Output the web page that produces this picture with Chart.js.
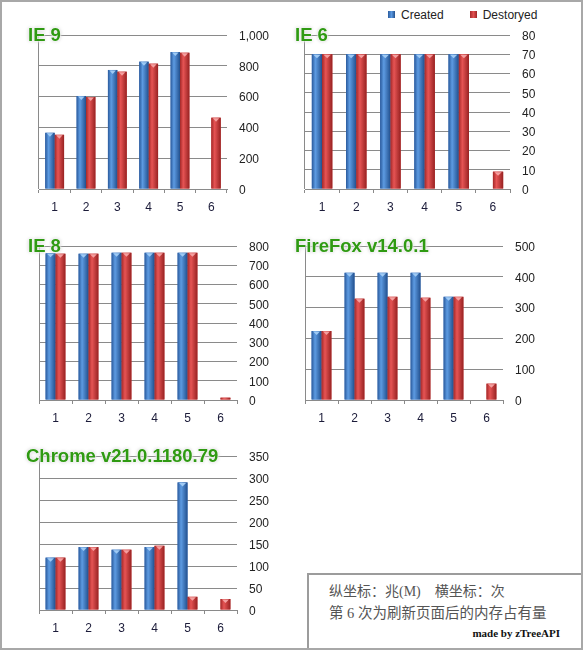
<!DOCTYPE html>
<html>
<head>
<meta charset="utf-8">
<script src="https://cdn.jsdelivr.net/npm/chart.js@4.4.1/dist/chart.umd.min.js"></script>
<style>
body { margin: 0; background: #fff; }
#page { position: relative; width: 583px; height: 650px; overflow: hidden; font-family: "Liberation Sans", Arial, sans-serif; }
#frame { position: absolute; left: 0; top: 0; width: 583px; height: 650px; border: 2px solid #a8a8a8; box-sizing: border-box; pointer-events: none; z-index: 5; }
.panel { position: absolute; }
.title { position: absolute; font: bold 18.5px "Liberation Sans", Arial, sans-serif; color: #2f9a12; line-height: 20px; white-space: nowrap; z-index: 2;
  text-shadow: 0 0 1px #fff, 0 0 2px #fff, 0 0 3px #d8d8d8, 0 0 4px #d0d0d0; }
#legend { position: absolute; left: 388px; top: 8px; font-size: 12px; color: #222; white-space: nowrap; z-index: 2; }
#legend span.sw { display: inline-block; width: 7px; height: 7px; margin-right: 6px; vertical-align: 1px; }
#legend span.item { margin-right: 26px; }
#note { position: absolute; left: 307px; top: 573px; width: 280px; height: 80px; border: 2px solid #9c9c9c; box-sizing: border-box; background: #fff;
  font-family: "Liberation Serif", "Noto Sans CJK SC", serif; color: #555; z-index: 3; }
#note .l1, #note .l2 { position: absolute; left: 20px; font-size: 14px; line-height: 16px; white-space: nowrap; }
#note .l1 { top: 9px; }
#note .l2 { top: 30px; font-size: 14.5px; }
#note .l3 { position: absolute; right: 25px; top: 52px; font: bold 11px "Liberation Serif", serif; color: #111; }
</style>
</head>
<body>
<div id="page">
  <div id="legend">
    <span class="item"><span class="sw" style="background:linear-gradient(90deg,#2b5c9e,#5a98e0,#24508c)"></span>Created</span><span><span class="sw" style="background:linear-gradient(90deg,#a52a2a,#e25050,#9c2424)"></span>Destoryed</span>
  </div>
  <div id="note">
    <div class="l1">纵坐标：兆(M)　横坐标：次</div>
    <div class="l2">第 6 次为刷新页面后的内存占有量</div>
    <div class="l3">made by zTreeAPI</div>
  </div>
  <div id="frame"></div>
</div>
<script>
const categories = ['1', '2', '3', '4', '5', '6'];
const seriesNames = ['Created', 'Destoryed'];
const chartTitles = ['IE 9', 'IE 6', 'IE 8', 'FireFox v14.0.1', 'Chrome v21.0.1180.79'];

const ie9Created = [365, 604, 773, 827, 889, null];
const ie9Destroyed = [352, 597, 762, 814, 885, 463];
const ie6Created = [70, 70, 70, 70, 70, null];
const ie6Destroyed = [70, 70, 70, 70, 70, 9];
const ie8Created = [762, 760, 765, 765, 765, null];
const ie8Destroyed = [760, 760, 765, 765, 765, 12];
const ffCreated = [224, 413, 413, 413, 335, null];
const ffDestroyed = [224, 329, 335, 332, 335, 53];
const chromeCreated = [119, 143, 137, 143, 290, null];
const chromeDestroyed = [119, 143, 137, 146, 30, 25];

const axisMax = [1000, 80, 800, 500, 350];
const axisStep = [200, 10, 100, 100, 50];

const createdSets = [ie9Created, ie6Created, ie8Created, ffCreated, chromeCreated];
const destroyedSets = [ie9Destroyed, ie6Destroyed, ie8Destroyed, ffDestroyed, chromeDestroyed];

// plot rectangles (left, right, top, bottom) and title anchors
const panels = [
    { l: 39, r: 227, t: 35, b: 189, tx: 28, ty: 35 },
    { l: 305, r: 510, t: 35, b: 189, tx: 295, ty: 35 },
    { l: 39, r: 237, t: 246, b: 400, tx: 28, ty: 246 },
    { l: 305, r: 503, t: 246, b: 400, tx: 295, ty: 246 },
    { l: 39, r: 237, t: 456, b: 610, tx: 26, ty: 456 }
];

const PAD_L = 4, PAD_T = 12, Y_W = 50, X_H = 30;
const GRID = '#8a8a8a';

// colours: edge, highlight, far edge, cap, base
const shades = [
    ['#2a5a9c', '#5d9be2', '#22508e', '#9fcaf4', '#3b72c0'],
    ['#a42828', '#e65454', '#982222', '#f4a0a0', '#cc3a3a']
];

const barShade = {
    id: 'barShade',
    beforeDatasetsDraw(chart) {
        // make sure the top gridline is there
        const ctx = chart.ctx;
        const y = chart.scales.y;
        const py = Math.round(y.getPixelForValue(y.max)) + 0.5;
        ctx.save();
        ctx.strokeStyle = GRID;
        ctx.lineWidth = 1;
        ctx.beginPath();
        ctx.moveTo(chart.chartArea.left, py);
        ctx.lineTo(chart.chartArea.right, py);
        ctx.stroke();
        ctx.restore();
    },
    afterDatasetsDraw(chart) {
        const ctx = chart.ctx;
        chart.data.datasets.forEach((ds, di) => {
            const meta = chart.getDatasetMeta(di);
            const c = shades[di];
            meta.data.forEach((bar, i) => {
                if (ds.data[i] == null) return;
                const p = bar.getProps(['x', 'y', 'base', 'width'], true);
                const left = p.x - p.width / 2;
                const w = p.width;
                const g = ctx.createLinearGradient(left, 0, left + w, 0);
                g.addColorStop(0, c[0]);
                g.addColorStop(0.35, c[1]);
                g.addColorStop(1, c[2]);
                ctx.save();
                ctx.fillStyle = g;
                ctx.fillRect(left, p.y, w, p.base - p.y);
                ctx.fillStyle = c[3];
                ctx.beginPath();
                ctx.moveTo(left + 1.5, p.y + 0.5);
                ctx.lineTo(left + w - 1.5, p.y + 0.5);
                ctx.lineTo(p.x, p.y + Math.min(4, (p.base - p.y) * 0.5));
                ctx.closePath();
                ctx.fill();
                ctx.restore();
            });
        });
    }
};

const page = document.getElementById('page');

panels.forEach((pn, k) => {
    const left = pn.l - PAD_L;
    const top = pn.t - PAD_T;
    const box = document.createElement('div');
    box.className = 'panel';
    box.style.left = left + 'px';
    box.style.top = top + 'px';
    box.style.width = (pn.r - left + Y_W) + 'px';
    box.style.height = (pn.b - top + X_H) + 'px';
    const canvas = document.createElement('canvas');
    box.appendChild(canvas);
    page.insertBefore(box, document.getElementById('legend'));

    const title = document.createElement('div');
    title.className = 'title';
    title.textContent = chartTitles[k];
    title.style.left = pn.tx + 'px';
    title.style.top = (pn.ty - 10) + 'px';
    page.insertBefore(title, document.getElementById('legend'));

    new Chart(canvas, {
        type: 'bar',
        data: {
            labels: categories,
            datasets: [
                { label: seriesNames[0], data: createdSets[k], backgroundColor: shades[0][4] },
                { label: seriesNames[1], data: destroyedSets[k], backgroundColor: shades[1][4] }
            ]
        },
        options: {
            responsive: true,
            maintainAspectRatio: false,
            animation: false,
            layout: { padding: { left: PAD_L, top: PAD_T, right: 0, bottom: 0 } },
            categoryPercentage: 0.6,
            barPercentage: 1.0,
            plugins: {
                legend: { display: false },
                tooltip: { enabled: false }
            },
            scales: {
                x: {
                    offset: true,
                    grid: {
                        offset: true,
                        color: (c) => c.index === 0 ? GRID : 'rgba(0,0,0,0)',
                        tickColor: GRID,
                        tickLength: 4
                    },
                    border: { color: GRID },
                    ticks: { color: '#1c1c3a', font: { family: 'Liberation Sans', size: 12 }, padding: 7, maxRotation: 0 },
                    afterFit: (s) => { s.height = X_H; s.paddingLeft = 0; s.paddingRight = 0; }
                },
                y: {
                    position: 'right',
                    min: 0,
                    max: axisMax[k],
                    grid: { color: GRID, drawTicks: false },
                    border: { display: false },
                    ticks: { stepSize: axisStep[k], color: '#222', font: { family: 'Liberation Sans', size: 12 }, padding: 12, labelOffset: 1.5 },
                    afterFit: (s) => { s.width = Y_W; s.paddingTop = 0; s.paddingBottom = 0; }
                }
            }
        },
        plugins: [barShade]
    });
});
</script>
</body>
</html>
